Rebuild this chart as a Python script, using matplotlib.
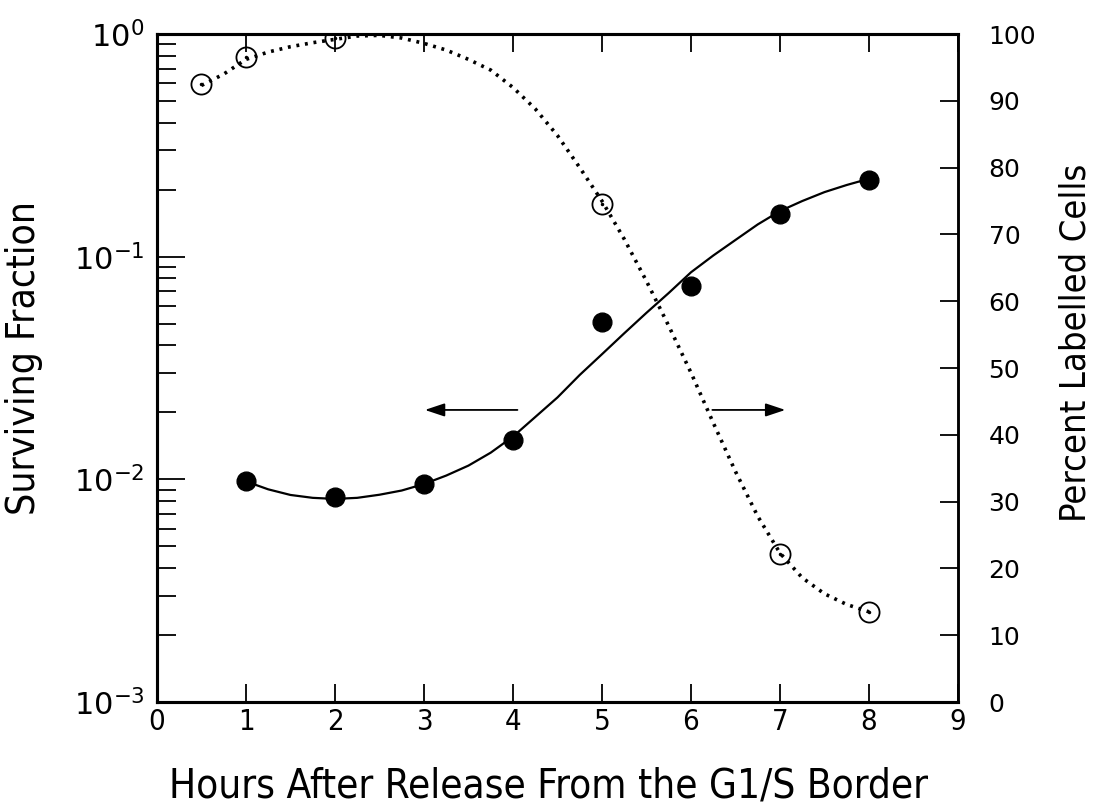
import matplotlib.pyplot as plt
from matplotlib.ticker import LogLocator, LogFormatterMathtext, NullFormatter, MultipleLocator

# surviving fraction (filled circles, left log axis)
hours_surv = [1, 2, 3, 4, 5, 6, 7, 8]
surviving = [0.0098, 0.0083, 0.0095, 0.0150, 0.051, 0.074, 0.155, 0.222]

# percent labelled cells (open circles, right axis)
hours_lab = [0.5, 1, 2, 5, 7, 8]
labelled = [92.5, 96.5, 99.4, 74.5, 22.1, 13.5]

# hand-drawn fit through the surviving fraction
fit_hours_surv = [1.0, 1.25, 1.5, 1.75, 2.0, 2.25, 2.5, 2.75, 3.0, 3.25, 3.5, 3.75,
                  4.0, 4.25, 4.5, 4.75, 5.0, 5.25, 5.5, 5.75, 6.0, 6.25, 6.5, 6.75,
                  7.0, 7.25, 7.5, 7.75, 8.0]
fit_surv = [0.00979, 0.00902, 0.00851, 0.00826, 0.00817, 0.00826, 0.00853, 0.00891,
            0.00953, 0.0104, 0.01153, 0.01318, 0.01556, 0.01905, 0.02333, 0.02944,
            0.03648, 0.04529, 0.05598, 0.06871, 0.0851, 0.1012, 0.1189, 0.1396,
            0.1603, 0.1778, 0.1950, 0.2099, 0.2239]

# dotted fit through the labelling index
fit_hours_lab = [0.5, 0.75, 1.0, 1.25, 1.5, 1.75, 2.0, 2.25, 2.5, 2.75, 3.0, 3.25,
                 3.5, 3.75, 4.0, 4.25, 4.5, 4.75, 5.0, 5.25, 5.5, 5.75, 6.0, 6.25,
                 6.5, 6.75, 7.0, 7.25, 7.5, 7.75, 8.0]
fit_lab = [92.3, 94.0, 96.2, 97.3, 98.1, 98.7, 99.2, 99.7, 99.8, 99.4, 98.6, 97.6,
           96.2, 94.6, 92.0, 88.8, 84.8, 80.0, 75.0, 69.3, 63.0, 56.3, 49.3, 41.8,
           34.5, 27.8, 22.3, 18.6, 16.2, 14.6, 13.5]

narrow = dict(family='DejaVu Sans', stretch='condensed')

fig = plt.figure(figsize=(10.93, 8.06), dpi=100)
ax = fig.add_axes([0.1436, 0.129, 0.7329, 0.8288])

ax.plot(fit_hours_surv, fit_surv, color='black', lw=1.6, zorder=2)
ax.plot(hours_surv, surviving, 'o', ms=13.5, color='black', zorder=3)
ax.set_yscale('log')
ax.set_ylim(1e-3, 1)
ax.set_xlim(0, 9)

ax.yaxis.set_major_locator(LogLocator(base=10, numticks=10))
ax.yaxis.set_minor_locator(LogLocator(base=10, subs=range(2, 10), numticks=10))
ax.yaxis.set_major_formatter(LogFormatterMathtext())
ax.yaxis.set_minor_formatter(NullFormatter())
ax.xaxis.set_major_locator(MultipleLocator(1))

ax.tick_params(axis='y', which='major', direction='in', length=20, width=1.3,
               labelsize=22, pad=9)
ax.tick_params(axis='y', which='minor', direction='in', length=14, width=1.3)
ax.tick_params(axis='x', which='major', direction='in', length=13, width=1.3,
               top=True, labelsize=21, pad=4)
for lab in ax.get_xticklabels():
    lab.set_fontfamily(narrow['family'])
    lab.set_fontstretch(narrow['stretch'])

# arrows pointing each curve to its axis
arrow_y = 0.0205
arrow_style = dict(arrowstyle='-|>,head_length=1.2,head_width=0.4',
                   color='black', lw=1.3, shrinkA=0, shrinkB=0)
ax.annotate('', xy=(3.01, arrow_y), xytext=(4.05, arrow_y), arrowprops=arrow_style)
ax.annotate('', xy=(7.06, arrow_y), xytext=(6.24, arrow_y), arrowprops=arrow_style)

ax2 = ax.twinx()
ax2.plot(fit_hours_lab, fit_lab, color='black', lw=2.6, linestyle=(0, (0.8, 1.6)))
ax2.plot(hours_lab, labelled, 'o', ms=14.5, mfc='none', mec='black', mew=1.3)
ax2.plot(hours_lab, labelled, '.', ms=3, color='black')
ax2.set_ylim(0, 100)
ax2.yaxis.set_major_locator(MultipleLocator(10))
ax2.tick_params(axis='y', direction='in', length=13, width=1.3, labelsize=18, pad=22)

for a in (ax, ax2):
    for side in ('left', 'bottom', 'top'):
        a.spines[side].set_linewidth(2.2)
    a.spines['right'].set_linewidth(1.8)

ax.set_xlabel('Hours After Release From the G1/S Border', fontsize=29, **narrow)
ax.xaxis.set_label_coords(0.489, -0.097)
ax.set_ylabel('Surviving Fraction', fontsize=28, **narrow)
ax.yaxis.set_label_coords(-0.142, 0.515)
ax2.set_ylabel('Percent Labelled Cells', fontsize=26, **narrow)
ax2.yaxis.set_label_coords(1.126, 0.537)

fig.savefig('out.png', dpi=100)
